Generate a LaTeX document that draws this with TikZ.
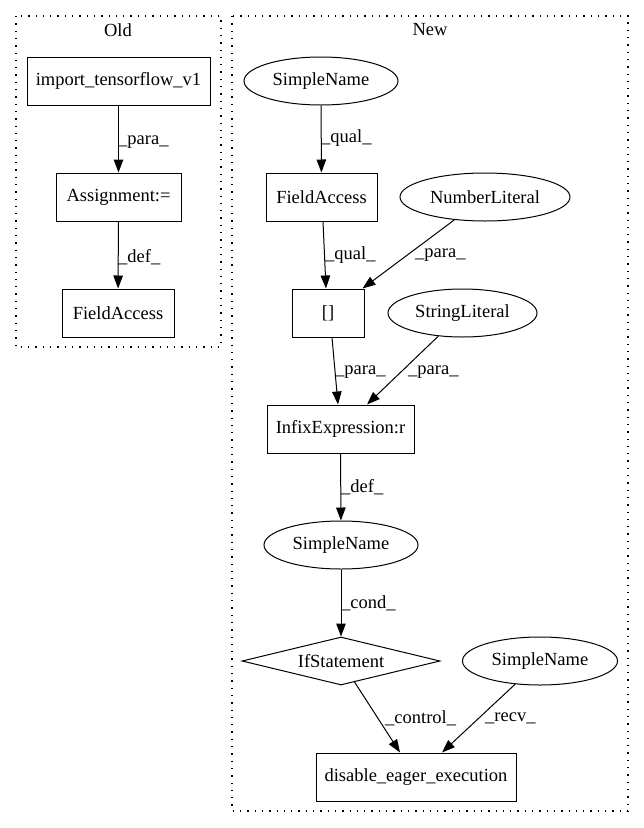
\documentclass[tikz,border=0pt]{standalone}
\usepackage{fontspec}
\setmainfont{Liberation Serif}
\usetikzlibrary{arrows.meta,shapes.geometric}
\begin{document}
\begin{tikzpicture}[x=1pt,y=-1pt,
  every node/.style={font=\fontsize{18.5pt}{21pt}\selectfont},
  box/.style={draw,line width=1pt,rectangle,inner sep=0pt},
  oval/.style={draw,line width=1pt,ellipse,inner sep=0pt},
  dia/.style={draw,line width=1pt,diamond,aspect=4.1,inner sep=0pt},
  edge/.style={draw,line width=1pt,-{Triangle[length=13pt,width=9.5pt]}},
  lbl/.style={anchor=west,inner sep=0pt},
  clus/.style={draw,line width=1.3pt,dash pattern=on 1.3pt off 6pt}]
\useasboundingbox (0,0) rectangle (644,828);
% clusters
\draw[clus] (16,16) rectangle (221,347);
\draw[clus] (232,16) rectangle (628,811);
\node (told) at (118,30) {Old};
\node (tnew) at (430,30) {New};
% Old nodes
\node[box,minimum width=183pt,minimum height=48pt] (imp) at (118.5,81) {import\_tensorflow\_v1};
\node[box,minimum width=125pt,minimum height=48pt] (asg) at (118.5,197) {Assignment:=};
\node[box,minimum width=112pt,minimum height=48pt] (fa1) at (118,313) {FieldAccess};
% New nodes
\node[oval,minimum width=154pt,minimum height=48pt] (sn1) at (321,81) {SimpleName};
\node[box,minimum width=111pt,minimum height=48pt] (fa2) at (321.5,197) {FieldAccess};
\node[oval,minimum width=170pt,minimum height=48pt] (nl) at (485,197) {NumberLiteral};
\node[box,minimum width=72pt,minimum height=48pt] (br) at (328,313) {[]};
\node[oval,minimum width=149pt,minimum height=48pt] (sl) at (462.5,313) {StringLiteral};
\node[box,minimum width=147pt,minimum height=48pt] (inf) at (340.5,429) {InfixExpression:r};
\node[oval,minimum width=154pt,minimum height=48pt] (sn2) at (341,545) {SimpleName};
\node[dia,minimum width=198pt,minimum height=48pt] (ifs) at (341,661) {IfStatement};
\node[oval,minimum width=155pt,minimum height=48pt] (sn3) at (540,661) {SimpleName};
\node[box,minimum width=200pt,minimum height=48pt] (dis) at (416,777) {disable\_eager\_execution};
% edges
\draw[edge] (imp) -- (asg);
\draw[edge] (asg) -- (fa1);
\draw[edge] (sn1) -- (fa2);
\draw[edge] ([xshift=1.5pt]fa2.south) -- ([xshift=-2pt]br.north);
\draw[edge] (nl) -- ([xshift=-2pt]br.north east);
\draw[edge] ([xshift=4pt]br.south) -- ([xshift=-2.5pt]inf.north);
\draw[edge] (sl) -- ([xshift=26.5pt]inf.north);
\draw[edge] (inf) -- (sn2);
\draw[edge] (sn2) -- (ifs);
\draw[edge] (ifs) -- ([xshift=-16pt]dis.north);
\draw[edge] (sn3) -- ([xshift=26pt]dis.north);
% labels
\node[lbl] (l1) at (118,142) {\_para\_};
\node[lbl] (l2) at (118,257) {\_def\_};
\node[lbl] (l3) at (321,138) {\_qual\_};
\node[lbl] (l4) at (325,255) {\_qual\_};
\node[lbl] (l5) at (415,255) {\_para\_};
\node[lbl] (l6) at (335,372) {\_para\_};
\node[lbl] (l7) at (408,372) {\_para\_};
\node[lbl] (l8) at (341,487) {\_def\_};
\node[lbl] (l9) at (341,603) {\_cond\_};
\node[lbl] (l10) at (385,718) {\_control\_};
\node[lbl] (l11) at (485,718) {\_recv\_};
\end{tikzpicture}
\end{document}
